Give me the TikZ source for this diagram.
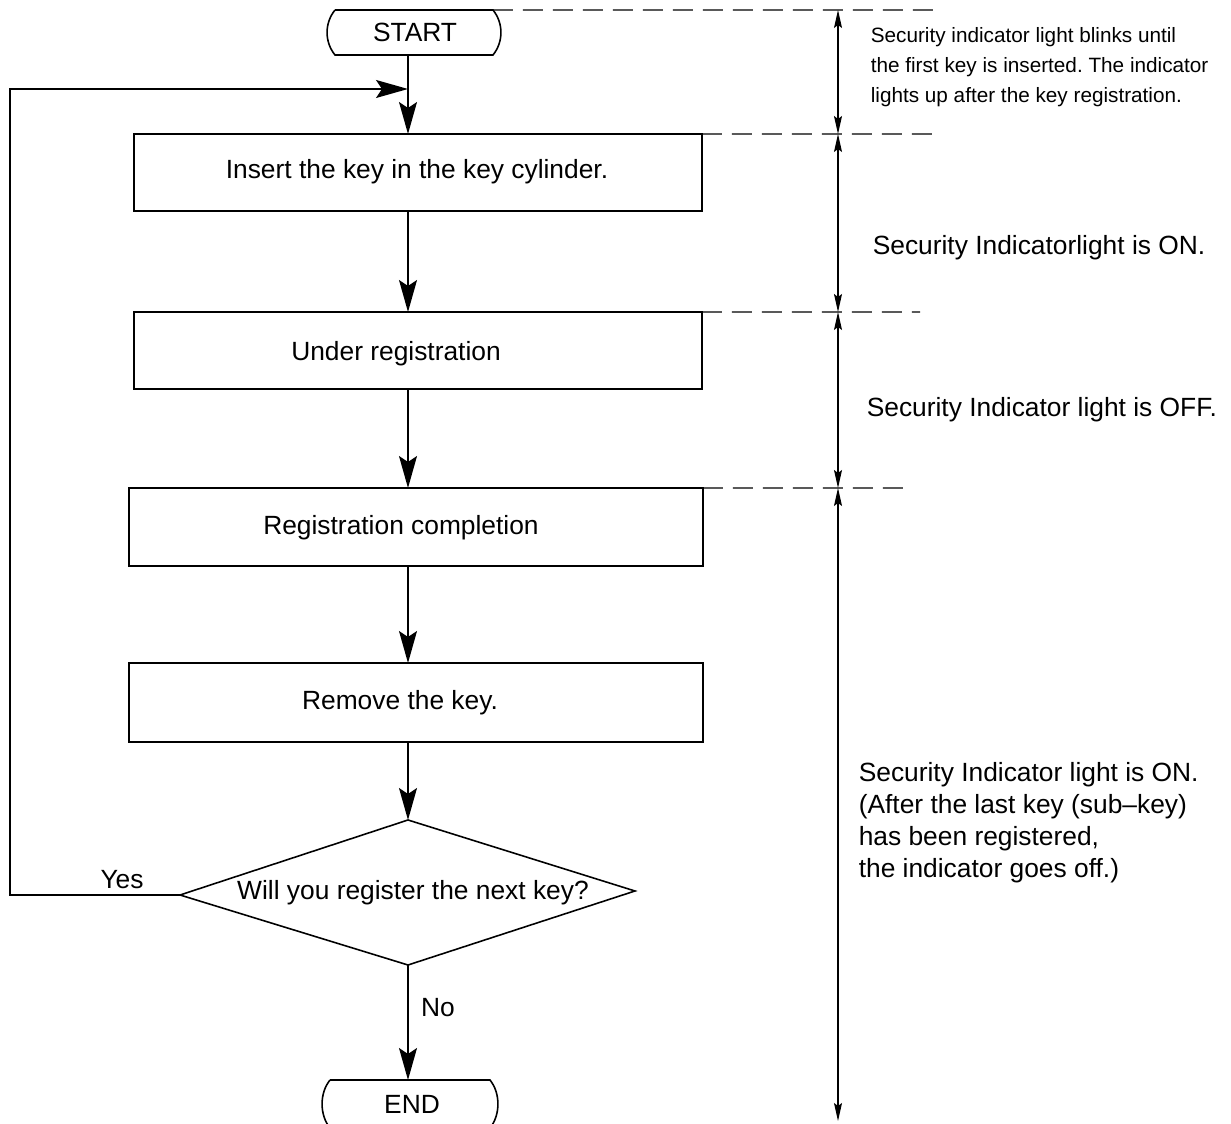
\documentclass[tikz,border=0pt]{standalone}
\usepackage{fontspec}
\setmainfont{Liberation Sans}
\usetikzlibrary{arrows.meta,calc}
\begin{document}
\frenchspacing
\begin{tikzpicture}[x=0.02cm,y=-0.02cm,
  line width=0.9pt,
  txt/.style={font=\fontsize{15}{18}\selectfont, inner sep=0pt},
  small/.style={font=\fontsize{11.8}{17}\selectfont, inner sep=0pt, align=left, anchor=west},
  big/.style={font=\fontsize{15}{18.2}\selectfont, inner sep=0pt, align=left, anchor=west},
  procbox/.style={draw, inner sep=0pt, outer sep=0pt},
  term/.style={inner sep=0pt, outer sep=0pt, minimum height=0.9cm},
  flow/.style={-{Stealth[length=0.64cm,width=0.36cm,inset=0.12cm]}},
  dim/.style={{Stealth[length=0.36cm,width=0.16cm,inset=0.06cm]}-{Stealth[length=0.36cm,width=0.16cm,inset=0.06cm]}, line width=0.7pt},
  guide/.style={dash pattern=on 0.4cm off 0.2cm, line width=0.7pt}
]
\clip (0,0) rectangle (1231,1124);
\fill[white] (0,0) rectangle (1231,1124);

% terminals
\node[term, minimum width=3.16cm] (start) at (414,32.5) {};
\node[txt] (starttext) at (415,32) {START};
\draw (start.north west) -- (start.north east)
  .. controls +(10.6,13) and +(10.6,-13) .. (start.south east)
  -- (start.south west)
  .. controls +(-10.6,-13) and +(-10.6,13) .. (start.north west);

\node[term, minimum width=3.2cm, minimum height=0.96cm] (end) at (410,1104) {};
\node[txt] (endtext) at (412,1104) {END};
\draw (end.north west) -- (end.north east)
  .. controls +(10.6,13) and +(10.6,-13) .. (end.south east)
  -- (end.south west)
  .. controls +(-10.6,-13) and +(-10.6,13) .. (end.north west);

% process boxes
\node[procbox, minimum width=11.36cm, minimum height=1.54cm] (b1) at (418,172.5) {};
\node[txt] (t1) at (417,172) {Insert the key in the key cylinder.};
\node[procbox, minimum width=11.36cm, minimum height=1.54cm] (b2) at (418,350.5) {};
\node[txt] (t2) at (396,354) {Under registration};
\node[procbox, minimum width=11.48cm, minimum height=1.56cm] (b3) at (416,527) {};
\node[txt] (t3) at (401,528) {Registration completion};
\node[procbox, minimum width=11.48cm, minimum height=1.58cm] (b4) at (416,702.5) {};
\node[txt] (t4) at (400,703) {Remove the key.};

% decision
\coordinate (dtop) at (408,820);
\coordinate (dright) at (635,891);
\coordinate (dbot) at (408,965);
\coordinate (dleft) at (180,895);
\draw (dtop) -- (dright) -- (dbot) -- (dleft) -- cycle;
\node[txt] (dq) at (413,893) {Will you register the next key?};

% flow connectors
\coordinate (loopc) at (10,89);
\coordinate (join) at (408,89);
\draw[flow] (start.south -| dtop) -- (b1.north -| dtop);
\draw[flow] (dleft) -| (loopc) -- (join);
\draw[flow] (b1.south -| dtop) -- (b2.north -| dtop);
\draw[flow] (b2.south -| dtop) -- (b3.north -| dtop);
\draw[flow] (b3.south -| dtop) -- (b4.north -| dtop);
\draw[flow] (b4.south -| dtop) -- (dtop);
\draw[flow] (dbot) -- (end.north -| dbot);
\node[txt] (yes) at (122,880) {Yes};
\node[txt] (no) at (438,1008) {No};

% right-hand guides
\coordinate (g0) at (935,10);
\coordinate (g1) at (935,134);
\coordinate (g2) at (920,312);
\coordinate (g3) at (910,488);
\draw[guide] (start.north east) -- (g0);
\draw[guide] (b1.north east) -- (g1);
\draw[guide] (b2.north east) -- (g2);
\draw[guide] (b3.north east) -- (g3);

\coordinate (r0) at (838,10);
\coordinate (r1) at (838,134);
\coordinate (r2) at (838,312);
\coordinate (r3) at (838,488);
\coordinate (r4) at (838,1121);
\draw[dim] (r0) -- (r1);
\draw[dim] (r1) -- (r2);
\draw[dim] (r2) -- (r3);
\draw[dim] (r3) -- (r4);

\node[small] (n1) at (870,67.5) {Security indicator light blinks until\\the first key is inserted. The indicator\\lights up after the key registration.};
\node[big] (n2) at (872,248) {Security Indicatorlight is ON.};
\node[big] (n3) at (866,410) {Security Indicator light is OFF.};
\node[big] (n4) at (858,822.5) {Security Indicator light is ON.\\(After the last key (sub–key)\\has been registered,\\the indicator goes off.)};
\end{tikzpicture}
\end{document}
